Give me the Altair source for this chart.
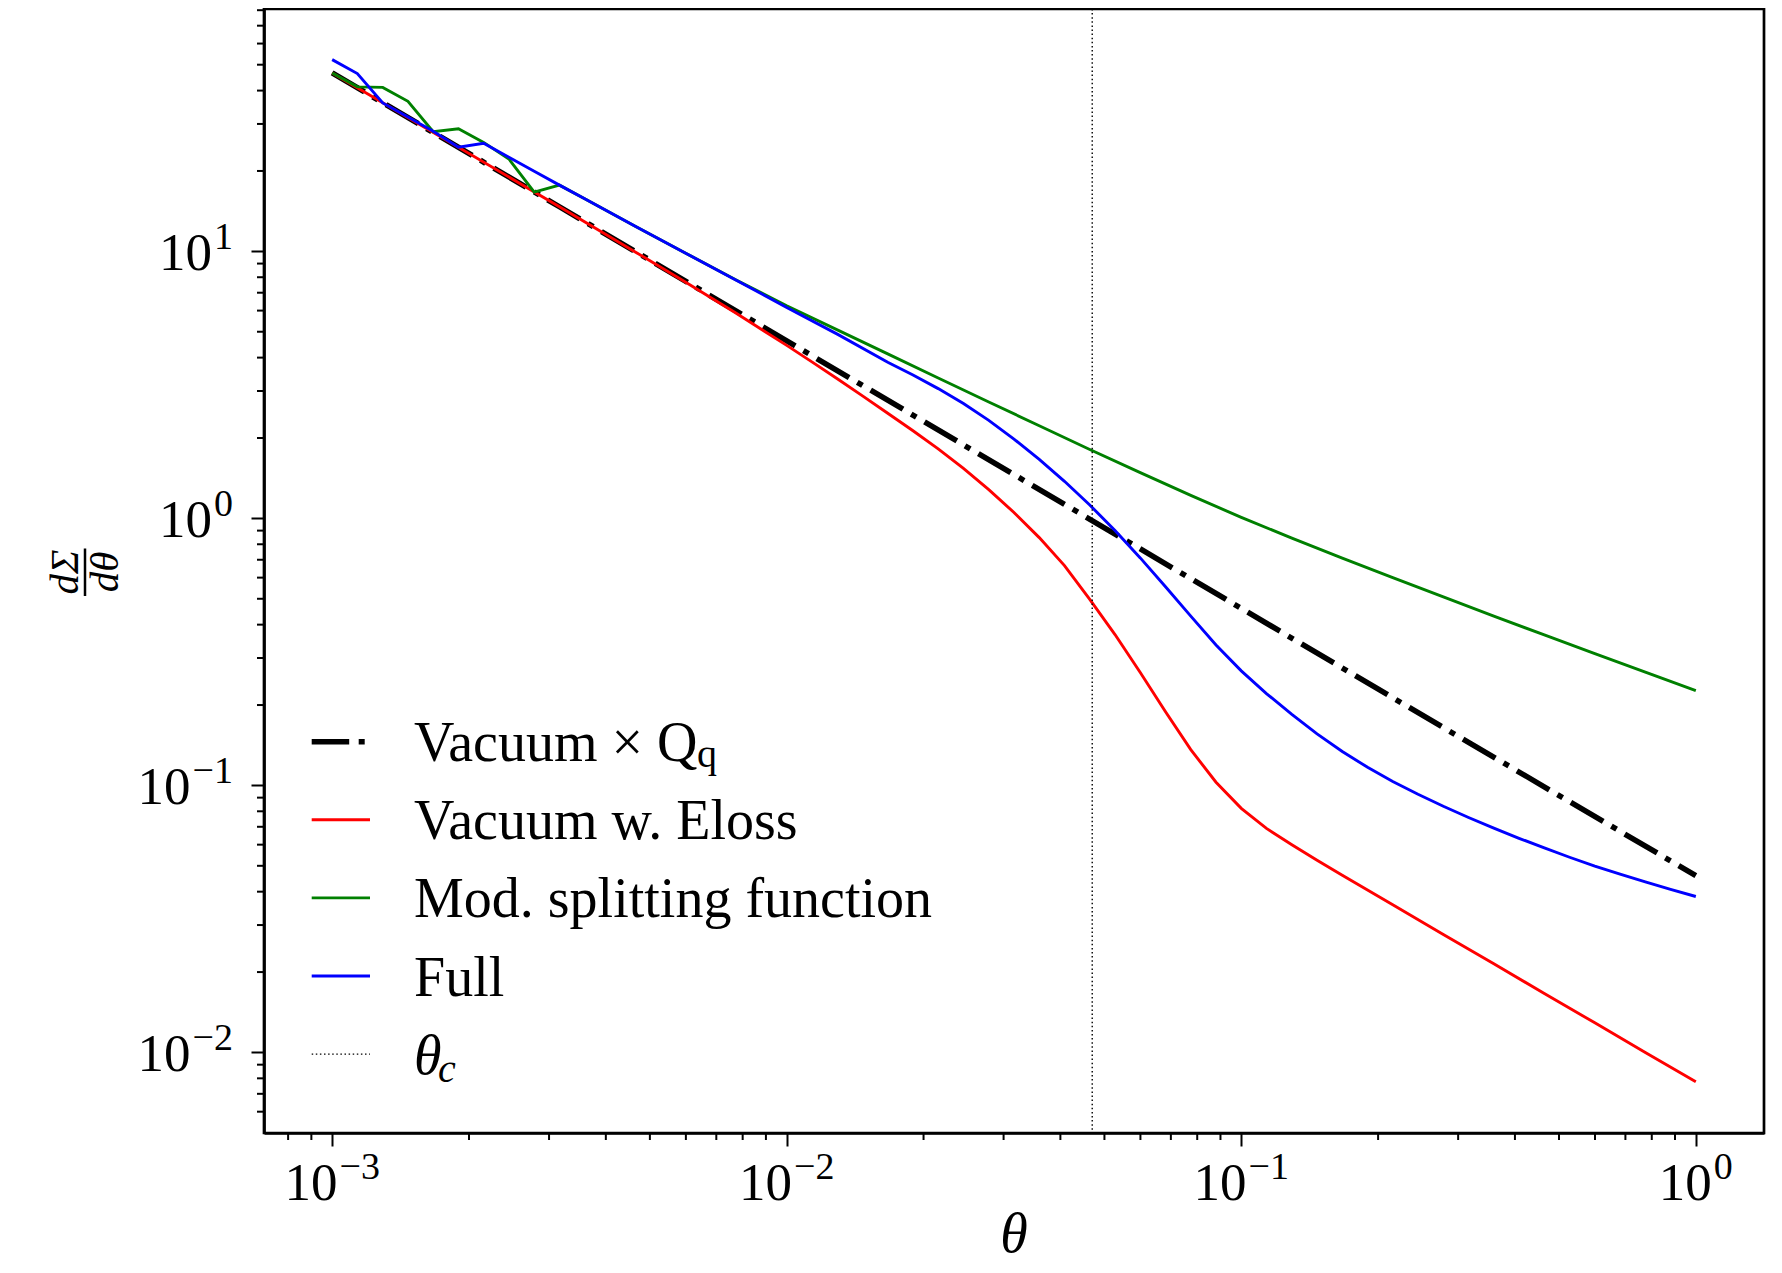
import altair as alt
import pandas as pd

FONT = "Liberation Serif"

# ---------------- data ----------------
theta_black = [0.001, 0.003162, 0.01, 0.03162, 0.1, 0.3162, 1.0]
vals_black = [46.56, 14.69, 4.624, 1.459, 0.4603, 0.1449, 0.04592]

theta_red = [0.001, 0.003162, 0.004642, 0.005995, 0.007743, 0.01, 0.01136, 0.01292, 0.01468,
             0.01668, 0.01896, 0.02154, 0.02448, 0.02783, 0.03162, 0.03594, 0.04084, 0.04642,
             0.05275, 0.05995, 0.06813, 0.07743, 0.08799, 0.1, 0.1136, 0.1292, 0.1468, 0.1668,
             0.2154, 0.2783, 0.3594, 0.4642, 0.5995, 0.7743, 1.0]
vals_red = [46.56, 14.69, 9.954, 7.656, 5.861, 4.446, 3.855, 3.334, 2.877,
            2.477, 2.128, 1.820, 1.538, 1.282, 1.052, 0.8472, 0.6653, 0.4977,
            0.3673, 0.2649, 0.1888, 0.1361, 0.1028, 0.08204, 0.06902, 0.05998, 0.05248, 0.04607,
            0.03573, 0.02767, 0.02148, 0.01663, 0.01291, 0.01, 0.007762]

theta_green = [0.001, 0.001136, 0.001292, 0.001468, 0.001668, 0.001896, 0.002154, 0.002448,
               0.002783, 0.003162, 0.003594, 0.004642, 0.005995, 0.007743, 0.01, 0.01292,
               0.01668, 0.02154, 0.02783, 0.03594, 0.04642, 0.05995, 0.07743, 0.1, 0.1292,
               0.1668, 0.2154, 0.2783, 0.3594, 0.4642, 0.5995, 0.7743, 1.0]
vals_green = [46.56, 41.30, 41.11, 36.48, 28.05, 28.77, 25.59, 22.18,
              16.67, 17.70, 15.74, 12.42, 9.840, 7.816, 6.252, 5.082,
              4.130, 3.357, 2.729, 2.223, 1.811, 1.483, 1.219, 1.009, 0.8433,
              0.7096, 0.5998, 0.5082, 0.4305, 0.3661, 0.3115, 0.2655, 0.2265]

theta_blue = [0.001, 0.001136, 0.001292, 0.001468, 0.001668, 0.001896, 0.002154, 0.002448,
              0.002783, 0.003162, 0.003594, 0.004642, 0.005995, 0.007743, 0.01, 0.01292,
              0.01668, 0.01896, 0.02154, 0.02448, 0.02783, 0.03162, 0.03594, 0.04084, 0.04642,
              0.05275, 0.05995, 0.06813, 0.07743, 0.08799, 0.1, 0.1136, 0.1292, 0.1468,
              0.1668, 0.1896, 0.2154, 0.2448, 0.2783, 0.3162, 0.3594, 0.4084, 0.4642,
              0.5275, 0.5995, 0.6813, 0.7743, 0.8799, 1.0]
vals_blue = [52.24, 46.34, 35.97, 31.84, 28.18, 24.55, 25.41, 22.49,
             19.95, 17.70, 15.74, 12.42, 9.840, 7.798, 6.166, 4.898,
             3.846, 3.443, 3.062, 2.692, 2.328, 1.982, 1.663, 1.377, 1.122,
             0.9016, 0.7112, 0.5546, 0.4305, 0.3357, 0.2685, 0.2208, 0.1845, 0.1560,
             0.1340, 0.1169, 0.1035, 0.09268, 0.08356, 0.07586, 0.06918, 0.06339, 0.05834,
             0.05383, 0.04989, 0.04656, 0.04355, 0.04083, 0.03837]

theta_c = [0.047]

legend_main = ["Vacuum × Q", "Vacuum w. Eloss", "Mod. splitting function", "Full", "θ"]
legend_sub = ["q", "", "", "", "c"]

x_decades = [0.001, 0.01, 0.1, 1.0]
x_decade_exps = ["−3", "−2", "−1", "0"]
y_decades = [0.01, 0.1, 1.0, 10.0]
y_decade_exps = ["−2", "−1", "0", "1"]
x_minor = [0.0008, 0.0009,
           0.002, 0.003, 0.004, 0.005, 0.006, 0.007, 0.008, 0.009,
           0.02, 0.03, 0.04, 0.05, 0.06, 0.07, 0.08, 0.09,
           0.2, 0.3, 0.4, 0.5, 0.6, 0.7, 0.8, 0.9]
y_minor = [0.006, 0.007, 0.008, 0.009,
           0.02, 0.03, 0.04, 0.05, 0.06, 0.07, 0.08, 0.09,
           0.2, 0.3, 0.4, 0.5, 0.6, 0.7, 0.8, 0.9,
           2, 3, 4, 5, 6, 7, 8, 9,
           20, 30, 40, 50, 60, 70, 80]

for a, b in [(theta_black, vals_black), (theta_red, vals_red),
             (theta_green, vals_green), (theta_blue, vals_blue)]:
    assert len(a) == len(b), (len(a), len(b))

# ---------------- layout ----------------
W, H = 1500, 1124
XDOM = [0.000708, 1.4125]
YDOM = [0.004993, 80.83]
xscale = alt.Scale(type="log", domain=XDOM, nice=False)
yscale = alt.Scale(type="log", domain=YDOM, nice=False)

common_axis = dict(title=None, grid=False, labels=False, tickSize=13, tickWidth=2,
                   tickColor="black", domainColor="black", domainWidth=2.7)
x_axis = alt.Axis(values=x_decades, **common_axis)
y_axis = alt.Axis(values=y_decades, **common_axis)

XENC = dict(scale=xscale, axis=x_axis)
YENC = dict(scale=yscale, axis=y_axis)


def line_layer(th, vs, color, width, dash=None):
    df = pd.DataFrame({"theta": th, "value": vs})
    kw = dict(color=color, strokeWidth=width, strokeCap="butt", strokeJoin="miter", clip=True)
    if dash is not None:
        kw["strokeDash"] = dash
    return alt.Chart(df).mark_line(**kw).encode(
        x=alt.X("theta:Q", **XENC),
        y=alt.Y("value:Q", **YENC),
    )


BLACK_DASH = [37.5, 9.5, 6, 9.5]
DOT_DASH = [1.5, 2.6]
CW = 2.9

layers = [
    line_layer(theta_black, vals_black, "black", 5.5, BLACK_DASH),
    line_layer(theta_red, vals_red, "#ff0000", CW),
    line_layer(theta_green, vals_green, "#008000", CW),
    line_layer(theta_blue, vals_blue, "#0000ff", CW),
]

# vertical dotted line at theta_c
layers.append(
    alt.Chart(pd.DataFrame({"theta": theta_c})).mark_rule(
        color="black", strokeWidth=1.4, strokeDash=DOT_DASH
    ).encode(x=alt.X("theta:Q", **XENC))
)

# minor ticks
layers.append(
    alt.Chart(pd.DataFrame({"theta": x_minor})).mark_rule(color="black", strokeWidth=2).encode(
        x=alt.X("theta:Q", **XENC), y=alt.value(H), y2=alt.value(H + 7))
)
layers.append(
    alt.Chart(pd.DataFrame({"value": y_minor})).mark_rule(color="black", strokeWidth=2).encode(
        y=alt.Y("value:Q", **YENC), x=alt.value(0), x2=alt.value(-7))
)

# tick labels "10" with raised exponent
MAIN, SUP = 53, 38
BASE_W = 2 * 0.5 * MAIN


def sup_w(s):
    return sum(0.564 if ch == "−" else 0.5 for ch in s) * SUP


for v, e in zip(x_decades, x_decade_exps):
    total = BASE_W + 2 + sup_w(e)
    d = pd.DataFrame({"theta": [v]})
    layers.append(alt.Chart(d).mark_text(
        text="10", font=FONT, fontSize=MAIN, align="left", baseline="alphabetic",
        dx=-total / 2, color="black").encode(x=alt.X("theta:Q", **XENC), y=alt.value(1191)))
    layers.append(alt.Chart(d).mark_text(
        text=e, font=FONT, fontSize=SUP, align="left", baseline="alphabetic",
        dx=-total / 2 + BASE_W + 2, color="black").encode(x=alt.X("theta:Q", **XENC), y=alt.value(1170)))

R = -31
for v, e in zip(y_decades, y_decade_exps):
    d = pd.DataFrame({"value": [v]})
    layers.append(alt.Chart(d).mark_text(
        text=e, font=FONT, fontSize=SUP, align="right", baseline="alphabetic",
        dy=-2, color="black").encode(y=alt.Y("value:Q", **YENC), x=alt.value(R)))
    layers.append(alt.Chart(d).mark_text(
        text="10", font=FONT, fontSize=MAIN, align="right", baseline="alphabetic",
        dy=19, color="black").encode(y=alt.Y("value:Q", **YENC), x=alt.value(R - sup_w(e) - 2)))


def txt(text, x, y, size, style="normal", align="left", baseline="alphabetic", angle=0):
    return alt.Chart(alt.Data(values=[{}])).mark_text(
        text=text, font=FONT, fontSize=size, fontStyle=style, align=align,
        baseline=baseline, angle=angle, color="black"
    ).encode(x=alt.value(x), y=alt.value(y))


def lrule(y, color, width, dash=None):
    kw = dict(color=color, strokeWidth=width, strokeCap="butt")
    if dash is not None:
        kw["strokeDash"] = dash
    return alt.Chart(alt.Data(values=[{}])).mark_rule(**kw).encode(
        x=alt.value(47.7), x2=alt.value(106), y=alt.value(y))


# legend
row_y = [732.7 + 78.1 * i for i in range(5)]
handles = [("black", 5.5, BLACK_DASH), ("#ff0000", CW, None), ("#008000", CW, None),
           ("#0000ff", CW, None), ("black", 1.4, DOT_DASH)]
for i, (c, w, d) in enumerate(handles):
    layers.append(lrule(row_y[i], c, w, d))
    style = "italic" if i == 4 else "normal"
    layers.append(txt(legend_main[i], 150, row_y[i] + 19.5, 56, style))
# subscripts
layers.append(txt(legend_sub[0], 433, row_y[0] + 25, 40))
layers.append(txt(legend_sub[4], 174, row_y[4] + 28, 40, "italic"))

# axis titles
layers.append(txt("θ", 750, 1243, 56, "italic", align="center"))
layers.append(txt("dΣ", -186, 563, 41, "italic", align="center", angle=270))
layers.append(txt("dθ", -146, 563, 41, "italic", align="center", angle=270))
layers.append(
    alt.Chart(alt.Data(values=[{}])).mark_rule(color="black", strokeWidth=2.5).encode(
        x=alt.value(-179), y=alt.value(539.5), y2=alt.value(587))
)

chart = alt.layer(*layers).properties(
    width=W, height=H,
    autosize=alt.AutoSizeParams(type="none"),
    padding={"left": 256, "top": 1, "right": 10, "bottom": 132},
    background="white",
).configure_view(stroke="black", strokeWidth=2.7)

chart.save("out.html", embed_options={"renderer": "svg", "actions": False})
